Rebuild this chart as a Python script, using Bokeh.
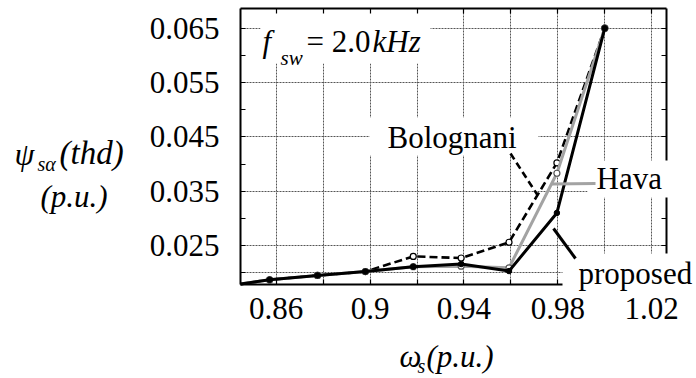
import numpy as np
from bokeh.plotting import figure
from bokeh.models import Range1d, FixedTicker, LinearAxis, Label, BoxAnnotation, Arrow, Grid
from bokeh.embed import file_html
from bokeh.resources import INLINE

# ---- data ----
omega = [0.8448, 0.8572, 0.8776, 0.8980, 0.9184, 0.9388, 0.9592, 0.9796, 1.0]
proposed = [0.0179, 0.0187, 0.0195, 0.0202, 0.0211, 0.0216, 0.0203, 0.0310, 0.0650]
bolognani = [0.0179, 0.0187, 0.0195, 0.0202, 0.0230, 0.0227, 0.0256, 0.0402, 0.0650]
hava = [0.0179, 0.0187, 0.0195, 0.0202, 0.0211, 0.0212, 0.0209, 0.0383, 0.0650]

x_ticks = [0.86, 0.90, 0.94, 0.98, 1.02]
x_tick_labels = ["0.86", "0.9", "0.94", "0.98", "1.02"]
x_minor = [0.88, 0.92, 0.96, 1.00]
x_grid = [0.86, 0.88, 0.90, 0.92, 0.94, 0.96, 0.98, 1.00, 1.02]
y_ticks = [0.025, 0.035, 0.045, 0.055, 0.065]
y_tick_labels = ["0.025", "0.035", "0.045", "0.055", "0.065"]
y_minor = [0.020, 0.030, 0.040, 0.050, 0.060]
y_grid = [0.020, 0.025, 0.035, 0.045, 0.055, 0.065]

# ---- layout ----
W, H = 696, 378
XS, XE = 0.74253, 1.03908          # canvas extent in data units
YS, YE = 0.000524, 0.070098
XL, XR = 0.84479, 1.0263           # plot box
YB, YT = 0.017826, 0.068626
FONT = "Liberation Serif"

p = figure(width=W, height=H, output_backend="svg", toolbar_location=None,
           x_range=Range1d(XS, XE), y_range=Range1d(YS, YE),
           min_border=0, background_fill_color="white", border_fill_color="white")
p.outline_line_color = None

def dx(px):
    return XS + px * (XE - XS) / W
def dy(py):
    return YE - py * (YE - YS) / H

def style_axis(ax, labels=True):
    ax.axis_line_color = "black"
    ax.axis_line_width = 2
    ax.major_tick_in = 5
    ax.major_tick_out = 0
    ax.minor_tick_in = 5
    ax.minor_tick_out = 0
    ax.major_tick_line_width = 1.2
    ax.minor_tick_line_width = 1.2
    ax.major_label_text_font = FONT
    if labels:
        ax.major_label_text_font_size = "31px"
        ax.major_label_text_color = "black"
    else:
        ax.major_label_text_font_size = "1px"
        ax.major_label_text_color = None
        ax.major_label_standoff = 0

xa = p.xaxis[0]
xa.ticker = FixedTicker(ticks=x_ticks, minor_ticks=x_minor)
xa.major_label_overrides = {t: s for t, s in zip(x_ticks, x_tick_labels)}
xa.fixed_location = YB
xa.bounds = (XL, XR)
style_axis(xa)
xa.major_label_standoff = 14

ya = p.yaxis[0]
ya.ticker = FixedTicker(ticks=y_ticks, minor_ticks=y_minor)
ya.major_label_overrides = {t: s for t, s in zip(y_ticks, y_tick_labels)}
ya.fixed_location = XL
ya.bounds = (YB, YT)
style_axis(ya)
ya.major_label_standoff = 21

top = LinearAxis(ticker=FixedTicker(ticks=x_ticks, minor_ticks=x_minor),
                 fixed_location=YT, bounds=(XL, XR))
style_axis(top, labels=False)
p.add_layout(top, "above")
right = LinearAxis(ticker=FixedTicker(ticks=y_ticks, minor_ticks=y_minor),
                   fixed_location=XR, bounds=(YB, YT))
style_axis(right, labels=False)
p.add_layout(right, "right")

# grid
has_cross = "cross_bounds" in Grid.properties()
if has_cross:
    p.xgrid.ticker = FixedTicker(ticks=x_grid)
    p.ygrid.ticker = FixedTicker(ticks=y_grid)
    p.xgrid[0].cross_bounds = (YB, YT)
    p.ygrid[0].cross_bounds = (XL, XR)
    for g in (p.xgrid[0], p.ygrid[0]):
        g.grid_line_color = "#555555"
        g.grid_line_width = 1
        g.grid_line_dash = "2 1"
else:
    p.xgrid.visible = False
    p.ygrid.visible = False
    p.segment(x0=x_grid, x1=x_grid, y0=[YB] * len(x_grid), y1=[YT] * len(x_grid),
              line_color="#555555", line_width=1, line_dash="2 1", level="underlay")
    p.segment(x0=[XL] * len(y_grid), x1=[XR] * len(y_grid), y0=y_grid, y1=y_grid,
              line_color="#555555", line_width=1, line_dash="2 1", level="underlay")

def box(l, r, t, b, level):
    p.add_layout(BoxAnnotation(left=dx(l), right=dx(r), top=dy(t), bottom=dy(b),
                               fill_color="white", fill_alpha=1.0, line_color=None,
                               level=level))

box(260, 430, 11, 63, "underlay")
box(369, 538, 117, 155, "underlay")
box(587, 670, 160, 197, "annotation")
box(562, 700, 253, 296, "annotation")

# series
p.line(omega, bolognani, line_color="black", line_width=2.6, line_dash="8 4")
p.scatter(omega[1:], bolognani[1:], marker="circle", size=6, fill_color="white",
          line_color="black", line_width=1.2)
p.line(omega, hava, line_color="#a3a3a3", line_width=3)
p.scatter(omega[1:], hava[1:], marker="circle", size=6, fill_color="white",
          line_color="#555555", line_width=1.2)
p.line(omega, proposed, line_color="black", line_width=3)
p.scatter(omega[1:], proposed[1:], marker="circle", size=5.5, fill_color="black",
          line_color="black")

# leader lines
bx = dx(537)
p.add_layout(Arrow(end=None, x_start=dx(510), y_start=dy(153), x_end=bx,
                   y_end=float(np.interp(bx, omega, bolognani)),
                   line_color="black", line_width=2.6, line_dash="7 4"))
hx = dx(551)
p.add_layout(Arrow(end=None, x_start=dx(595), y_start=dy(183), x_end=hx,
                   y_end=float(np.interp(hx, omega, hava)),
                   line_color="#a3a3a3", line_width=3))
p.add_layout(Arrow(end=None, x_start=dx(575), y_start=dy(258), x_end=dx(553),
                   y_end=dy(228), line_color="black", line_width=3))

def text(px, py, s, size=31, style="normal"):
    # py is the wanted baseline in page pixels
    p.add_layout(Label(x=dx(px), y=dy(py - 0.28 * size), text=s, text_font=FONT,
                       text_font_size=f"{size}px", text_font_style=style,
                       text_color="black", text_align="left",
                       text_baseline="alphabetic"))

# f_sw annotation
text(262, 50, "f", 31, "italic")
text(280, 63, "sw", 21, "italic")
text(306, 50, "= 2.0", 31)
text(372, 50, "kHz", 31, "italic")
# curve labels
text(387, 146, "Bolognani")
text(596, 187, "Hava")
text(578, 282, "proposed")
# y axis title
text(14, 162, "ψ", 32, "italic")
text(37, 169, "sα", 20, "italic")
text(59, 162, "(thd)", 33, "italic")
text(40, 205, "(p.u.)", 31, "italic")
# x axis title
text(399, 365, "ω", 31, "italic")
text(417, 371, "s", 20, "italic")
text(426, 365, "(p.u.)", 31, "italic")

open("out.html", "w").write(file_html(p, INLINE))
